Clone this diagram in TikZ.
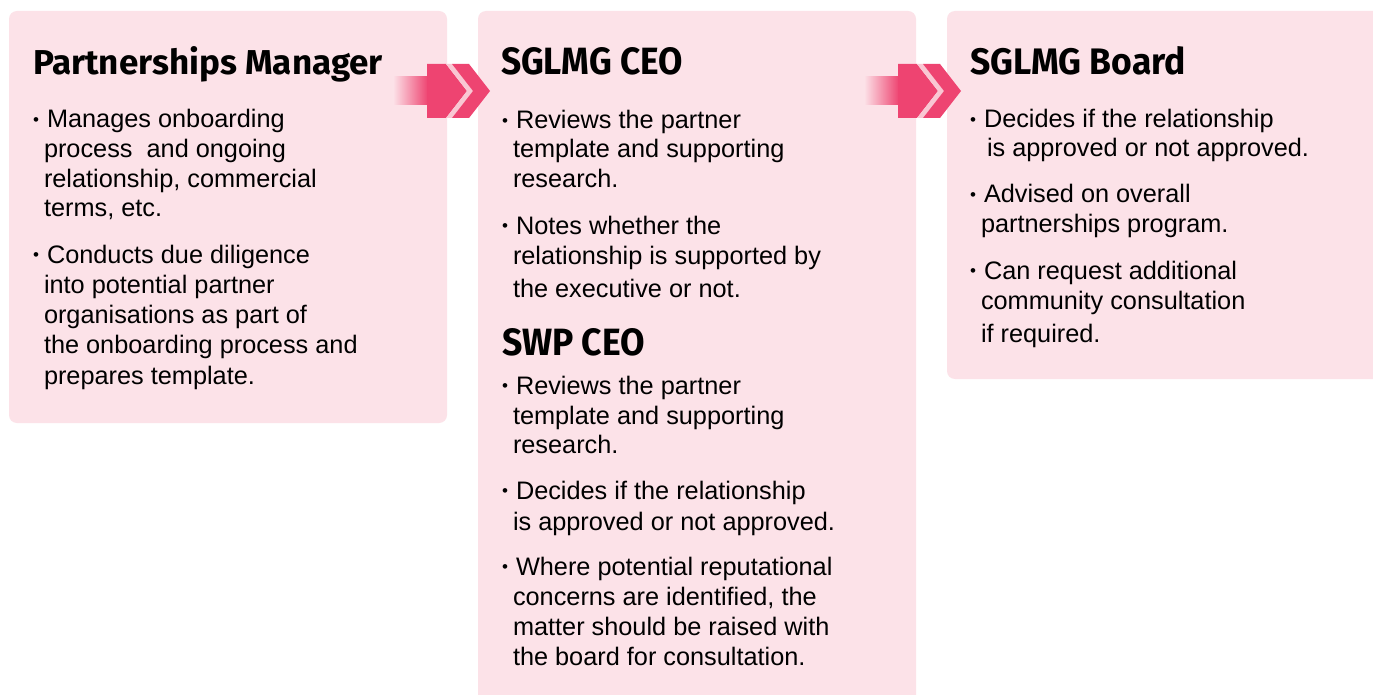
\documentclass[tikz,border=0pt]{standalone}
\usepackage{fontspec}
\setmainfont{Liberation Sans}
\newfontfamily\titlefont{Fira Sans}
\usepackage{graphicx}
\definecolor{boxpink}{HTML}{FCE2E8}
\definecolor{arrowpink}{HTML}{EE4471}
\definecolor{stripepink}{HTML}{F9C7D3}
\tikzset{
  panel/.style={fill=boxpink, draw=none, rounded corners=8pt},
  bodytxt/.style={anchor=base west, inner sep=0pt, outer sep=0pt, font=\fontsize{25.3}{30}\selectfont, text=black},
  titletxt/.style={anchor=base west, inner sep=0pt, outer sep=0pt, text=black},
  arrowbody/.style={fill=arrowpink, draw=none},
  arrowstripe/.style={fill=stripepink, draw=none},
}
\newcommand\bul{\makebox[14pt][l]{\raisebox{2.2pt}{\fontsize{17}{17}\selectfont •}}}
\newcommand\txtline[4]{\node[bodytxt] (#1) at (#2,#3) {#4};}
\newcommand\ttl[6]{\node[titletxt] (#1) at (#2,#3) {\resizebox{#4pt}{#5pt}{\titlefont\bfseries #6}};}
\newcommand\chevarrow[2]{%
  \begin{scope}[shift={(#1,0)}]
    \shade[left color=boxpink, right color=arrowpink, draw=none] (393,77) rectangle (428,105);
    \fill[arrowbody] (427,77) -- (427,64) -- (446,64) -- (467,91) -- (446,118) -- (427,118) -- (427,105) -- cycle;
    \fill[arrowstripe] (446,64) -- (452,64) -- (473,91) -- (452,118) -- (446,118) -- (467,91) -- cycle;
    \fill[arrowbody] (452,64) -- (469,64) -- (490,91) -- (469,118) -- (452,118) -- (473,91) -- cycle;
    \coordinate (#2) at (490,91);
  \end{scope}}
\begin{document}
\begin{tikzpicture}[x=1pt,y=-1pt]
\useasboundingbox (0,0) rectangle (1373,695);
\clip (0,0) rectangle (1373,695);
\fill[white] (0,0) rectangle (1373,695);
% panels
\fill[panel] (9,11) rectangle (447,423);
\fill[panel] (478,11) rectangle (916,720);
\fill[panel] (947,11) rectangle (1390,379);
% arrows
\chevarrow{0}{tipA}
\chevarrow{471}{tipB}
% Panel 1
\ttl{t1}{33}{75}{350}{28}{Partnerships Manager}
\txtline{a1}{33}{128}{\bul Manages onboarding}
\txtline{a2}{44}{158}{process\ \ and ongoing}
\txtline{a3}{44}{188}{relationship, commercial}
\txtline{a4}{44}{217}{terms, etc.}
\txtline{a5}{33}{263}{\bul Conducts due diligence}
\txtline{a6}{44}{293}{into potential partner}
\txtline{a7}{44}{323}{organisations as part of}
\txtline{a8}{44}{353}{the onboarding process and}
\txtline{a9}{44}{384}{prepares template.}
% Panel 2
\ttl{t2}{501}{75}{182}{27}{SGLMG CEO}
\txtline{b1}{502}{129}{\bul Reviews the partner}
\txtline{b2}{513}{158}{template and supporting}
\txtline{b3}{513}{188}{research.}
\txtline{b4}{502}{234}{\bul Notes whether the}
\txtline{b5}{513}{264}{relationship is supported by}
\txtline{b6}{513}{297}{the executive or not.}
\ttl{t3}{502}{355}{143}{27}{SWP CEO}
\txtline{c1}{502}{394}{\bul Reviews the partner}
\txtline{c2}{513}{424}{template and supporting}
\txtline{c3}{513}{453}{research.}
\txtline{c4}{502}{499}{\bul Decides if the relationship}
\txtline{c5}{513}{530}{is approved or not approved.}
\txtline{c6}{502}{575}{\bul Where potential reputational}
\txtline{c7}{513}{605}{concerns are identified, the}
\txtline{c8}{513}{635}{matter should be raised with}
\txtline{c9}{513}{665}{the board for consultation.}
% Panel 3
\ttl{t4}{970}{75}{216}{28}{SGLMG Board}
\txtline{d1}{970}{128}{\bul Decides if the relationship}
\txtline{d2}{987}{157}{is approved or not approved.}
\txtline{d3}{970}{203}{\bul Advised on overall}
\txtline{d4}{981}{233}{partnerships program.}
\txtline{d5}{970}{279}{\bul Can request additional}
\txtline{d6}{981}{309}{community consultation}
\txtline{d7}{981}{342}{if required.}
\end{tikzpicture}
\end{document}
